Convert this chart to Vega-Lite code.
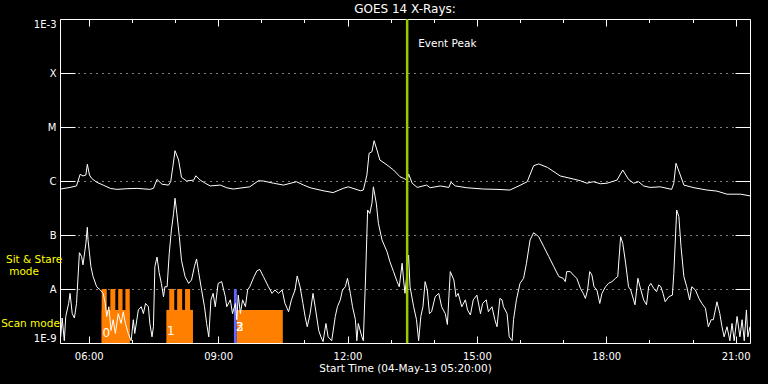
{
  "$schema": "https://vega.github.io/schema/vega-lite/v6.json",
  "width": 690,
  "height": 324,
  "autosize": "none",
  "padding": {"left": 60, "top": 19, "right": 18, "bottom": 41},
  "background": "black",
  "title": {"text": "GOES 14 X-Rays:", "color": "white", "font": "DejaVu Sans", "fontSize": 12, "fontWeight": "normal", "anchor": "middle", "frame": "group", "offset": -7, "baseline": "alphabetic"},
  "config": {
    "view": {"stroke": null},
    "axis": {"labelColor": "white", "tickColor": "white", "domainColor": "white", "titleColor": "white", "labelFont": "DejaVu Sans", "titleFont": "DejaVu Sans", "labelFontSize": 10, "titleFontWeight": "normal", "grid": false, "tickWidth": 1, "domainWidth": 1}
  },
  "resolve": {"axis": {"x": "independent", "y": "independent"}},
  "layer": [
    {
      "data": {"values": [
        {"s": "06:18", "e": "06:57", "top": 4.1e-9, "block": "0", "mode": "Scan"},
        {"s": "06:18", "e": "06:25", "top": 1e-8, "block": "0", "mode": "Sit & Stare"},
        {"s": "06:30", "e": "06:37", "top": 1e-8, "block": "0", "mode": "Sit & Stare"},
        {"s": "06:41", "e": "06:47", "top": 1e-8, "block": "0", "mode": "Sit & Stare"},
        {"s": "06:51", "e": "06:57", "top": 1e-8, "block": "0", "mode": "Sit & Stare"},
        {"s": "07:48", "e": "08:25", "top": 4.1e-9, "block": "1", "mode": "Scan"},
        {"s": "07:52", "e": "07:59", "top": 1e-8, "block": "1", "mode": "Sit & Stare"},
        {"s": "08:03", "e": "08:10", "top": 1e-8, "block": "1", "mode": "Sit & Stare"},
        {"s": "08:14", "e": "08:21", "top": 1e-8, "block": "1", "mode": "Sit & Stare"},
        {"s": "09:22", "e": "09:26", "top": 1e-8, "block": "2", "mode": "Sit & Stare"},
        {"s": "09:26", "e": "10:30", "top": 4.1e-9, "block": "3", "mode": "Scan"}
      ], "format": {"parse": {"s": "date:'%H:%M'", "e": "date:'%H:%M'"}}},
      "mark": {"type": "rect", "clip": true},
      "encoding": {
        "x": {"field": "s", "type": "temporal",
          "scale": {"domain": [{"year": 1900, "month": 1, "date": 1, "hours": 5, "minutes": 20}, {"year": 1900, "month": 1, "date": 1, "hours": 21, "minutes": 20}]},
          "axis": {"orient": "bottom", "ticks": false, "domain": true, "format": "%H:%M",
            "values": [{"year": 1900, "month": 1, "date": 1, "hours": 6}, {"year": 1900, "month": 1, "date": 1, "hours": 9}, {"year": 1900, "month": 1, "date": 1, "hours": 12}, {"year": 1900, "month": 1, "date": 1, "hours": 15}, {"year": 1900, "month": 1, "date": 1, "hours": 18}, {"year": 1900, "month": 1, "date": 1, "hours": 21}],
            "labelPadding": 8, "labelFlush": false, "labelOverlap": false, "title": "Start Time (04-May-13 05:20:00)", "titleFontSize": 10.5, "titlePadding": 2}},
        "x2": {"field": "e"},
        "y": {"field": "top", "type": "quantitative",
          "scale": {"type": "log", "domain": [1e-9, 1e-3], "nice": false},
          "axis": {"orient": "left", "values": [1e-9, 1e-8, 1e-7, 1e-6, 1e-5, 1e-4, 1e-3],
            "labelExpr": "datum.value < 2e-9 ? '1E-9' : datum.value < 2e-8 ? 'A' : datum.value < 2e-7 ? 'B' : datum.value < 2e-6 ? 'C' : datum.value < 2e-5 ? 'M' : datum.value < 2e-4 ? 'X' : '1E-3'",
            "ticks": false, "domain": true, "grid": true, "gridColor": "white", "gridDash": [1, 5], "gridWidth": 1, "gridOpacity": 1,
            "labelPadding": 4, "labelFlush": true, "labelOverlap": false, "title": null}},
        "y2": {"datum": 1e-9},
        "color": {"field": "block", "type": "nominal", "scale": {"domain": ["0", "1", "2", "3"], "range": ["#ff8000", "#ff8000", "#6464ff", "#ff8000"]}, "legend": null}
      }
    },
    {
      "data": {"values": [
        {"t":"05:21","v":7.1e-7},{"t":"05:34","v":7.6e-7},{"t":"05:43","v":8.1e-7},{"t":"05:48","v":1.33e-6},{"t":"05:52","v":1.24e-6},{"t":"05:56","v":1.29e-6},{"t":"05:58","v":2.04e-6},{"t":"06:01","v":1.29e-6},{"t":"06:04","v":1.12e-6},{"t":"06:11","v":9.5e-7},{"t":"06:20","v":8.4e-7},{"t":"06:30","v":7.3e-7},{"t":"06:39","v":7.0e-7},{"t":"06:53","v":7.2e-7},{"t":"07:07","v":7.3e-7},{"t":"07:25","v":7.0e-7},{"t":"07:30","v":7.3e-7},{"t":"07:35","v":1.07e-6},{"t":"07:42","v":8.7e-7},{"t":"07:51","v":8.4e-7},{"t":"07:54","v":9.7e-7},{"t":"07:57","v":1.84e-6},{"t":"08:00","v":3.64e-6},{"t":"08:05","v":2.45e-6},{"t":"08:09","v":1.17e-6},{"t":"08:16","v":1.0e-6},{"t":"08:26","v":1.04e-6},{"t":"08:29","v":1.25e-6},{"t":"08:35","v":1.04e-6},{"t":"08:42","v":9.1e-7},{"t":"08:49","v":8.1e-7},{"t":"09:03","v":8.4e-7},{"t":"09:12","v":7.5e-7},{"t":"09:21","v":7.1e-7},{"t":"09:44","v":7.8e-7},{"t":"09:56","v":1.01e-6},{"t":"10:03","v":1.0e-6},{"t":"10:17","v":9.1e-7},{"t":"10:31","v":8.4e-7},{"t":"10:49","v":9.7e-7},{"t":"10:59","v":8.4e-7},{"t":"11:08","v":7.5e-7},{"t":"11:26","v":6.6e-7},{"t":"11:40","v":6.1e-7},{"t":"11:54","v":7.3e-7},{"t":"12:01","v":7.8e-7},{"t":"12:18","v":6.6e-7},{"t":"12:22","v":6.8e-7},{"t":"12:27","v":1.29e-6},{"t":"12:30","v":3.26e-6},{"t":"12:34","v":3.49e-6},{"t":"12:37","v":5.58e-6},{"t":"12:41","v":3.75e-6},{"t":"12:45","v":2.45e-6},{"t":"12:55","v":1.98e-6},{"t":"13:04","v":1.6e-6},{"t":"13:13","v":1.2e-6},{"t":"13:18","v":1.12e-6},{"t":"13:23","v":1.04e-6},{"t":"13:25","v":1.35e-6},{"t":"13:30","v":9.1e-7},{"t":"13:37","v":7.6e-7},{"t":"13:50","v":8.4e-7},{"t":"13:55","v":7.5e-7},{"t":"14:09","v":8.1e-7},{"t":"14:21","v":7.6e-7},{"t":"14:24","v":9.5e-7},{"t":"14:30","v":8.1e-7},{"t":"14:46","v":7.5e-7},{"t":"15:09","v":7.1e-7},{"t":"15:28","v":7.0e-7},{"t":"15:46","v":6.8e-7},{"t":"16:00","v":8.3e-7},{"t":"16:10","v":9.7e-7},{"t":"16:19","v":1.92e-6},{"t":"16:26","v":2.07e-6},{"t":"16:38","v":1.79e-6},{"t":"16:56","v":1.24e-6},{"t":"17:14","v":1.09e-6},{"t":"17:24","v":1.01e-6},{"t":"17:33","v":9.1e-7},{"t":"17:42","v":9.7e-7},{"t":"17:52","v":8.9e-7},{"t":"18:01","v":9.1e-7},{"t":"18:15","v":1.04e-6},{"t":"18:23","v":1.6e-6},{"t":"18:31","v":1.07e-6},{"t":"18:38","v":9.1e-7},{"t":"18:45","v":9.7e-7},{"t":"18:52","v":8.1e-7},{"t":"19:01","v":7.6e-7},{"t":"19:15","v":7.8e-7},{"t":"19:31","v":7.0e-7},{"t":"19:34","v":9.1e-7},{"t":"19:37","v":2.13e-6},{"t":"19:43","v":1.29e-6},{"t":"19:48","v":8.4e-7},{"t":"20:02","v":7.5e-7},{"t":"20:20","v":6.8e-7},{"t":"20:34","v":6.5e-7},{"t":"20:48","v":5.7e-7},{"t":"21:07","v":5.7e-7},{"t":"21:20","v":5.3e-7}
      ], "format": {"parse": {"t": "date:'%H:%M'"}}},
      "mark": {"type": "line", "color": "white", "strokeWidth": 1, "clip": true},
      "encoding": {
        "x": {"field": "t", "type": "temporal", "axis": {"orient": "top", "labels": false, "ticks": true, "tickSize": -7,
          "values": [{"year": 1900, "month": 1, "date": 1, "hours": 6}, {"year": 1900, "month": 1, "date": 1, "hours": 9}, {"year": 1900, "month": 1, "date": 1, "hours": 12}, {"year": 1900, "month": 1, "date": 1, "hours": 15}, {"year": 1900, "month": 1, "date": 1, "hours": 18}, {"year": 1900, "month": 1, "date": 1, "hours": 21}],
          "domain": true, "title": null}},
        "y": {"field": "v", "type": "quantitative", "axis": {"orient": "right", "labels": false, "ticks": true, "tickSize": -15, "values": [1e-8, 1e-7, 1e-6, 1e-5, 1e-4], "domain": true, "title": null}}
      }
    },
    {
      "data": {"values": [
        {"t":"05:21","v":1.3e-9},{"t":"05:23","v":2.9e-9},{"t":"05:26","v":1.1e-9},{"t":"05:28","v":3.1e-9},{"t":"05:32","v":5.4e-9},{"t":"05:34","v":8.3e-9},{"t":"05:37","v":3.5e-9},{"t":"05:40","v":2.9e-9},{"t":"05:43","v":5.4e-9},{"t":"05:47","v":4.7e-8},{"t":"05:50","v":4.0e-8},{"t":"05:52","v":2.8e-8},{"t":"05:56","v":7.0e-8},{"t":"05:58","v":1.39e-7},{"t":"05:59","v":8.1e-8},{"t":"06:03","v":2.6e-8},{"t":"06:06","v":1.7e-8},{"t":"06:11","v":1.1e-8},{"t":"06:16","v":9.6e-9},{"t":"06:20","v":8.3e-9},{"t":"06:23","v":5.4e-9},{"t":"06:25","v":3.1e-9},{"t":"06:28","v":4.7e-9},{"t":"06:31","v":1.7e-9},{"t":"06:34","v":2.7e-9},{"t":"06:37","v":1.5e-9},{"t":"06:41","v":3.5e-9},{"t":"06:45","v":2.3e-9},{"t":"06:48","v":3.8e-9},{"t":"06:51","v":2.3e-9},{"t":"06:55","v":1.5e-9},{"t":"06:59","v":1.1e-9},{"t":"07:02","v":2.7e-9},{"t":"07:04","v":1.5e-9},{"t":"07:09","v":4.1e-9},{"t":"07:13","v":4.7e-9},{"t":"07:16","v":3.5e-9},{"t":"07:19","v":5.4e-9},{"t":"07:23","v":4.7e-9},{"t":"07:25","v":2.3e-9},{"t":"07:28","v":1.3e-9},{"t":"07:30","v":2.0e-9},{"t":"07:32","v":2.6e-8},{"t":"07:35","v":3.9e-8},{"t":"07:38","v":2.0e-8},{"t":"07:41","v":1.27e-8},{"t":"07:44","v":7.2e-9},{"t":"07:46","v":1.1e-8},{"t":"07:49","v":1.1e-8},{"t":"07:52","v":4.6e-8},{"t":"07:55","v":1.24e-7},{"t":"07:58","v":2.5e-7},{"t":"08:00","v":4.8e-7},{"t":"08:02","v":2.9e-7},{"t":"08:06","v":9.3e-8},{"t":"08:09","v":3.4e-8},{"t":"08:14","v":1.7e-8},{"t":"08:19","v":1.27e-8},{"t":"08:23","v":1.47e-8},{"t":"08:27","v":2.6e-8},{"t":"08:30","v":3.6e-8},{"t":"08:33","v":2.0e-8},{"t":"08:37","v":9.6e-9},{"t":"08:41","v":4.7e-9},{"t":"08:44","v":2.3e-9},{"t":"08:47","v":1.3e-9},{"t":"08:50","v":6.3e-9},{"t":"08:53","v":8.3e-9},{"t":"08:56","v":4.7e-9},{"t":"09:00","v":1.27e-8},{"t":"09:05","v":1.37e-8},{"t":"09:10","v":7.2e-9},{"t":"09:12","v":4.7e-9},{"t":"09:17","v":6.3e-9},{"t":"09:20","v":3.5e-9},{"t":"09:24","v":5.4e-9},{"t":"09:26","v":2.7e-9},{"t":"09:28","v":7.7e-9},{"t":"09:31","v":3.5e-9},{"t":"09:34","v":6.3e-9},{"t":"09:38","v":4.7e-9},{"t":"09:41","v":9.6e-9},{"t":"09:44","v":1.1e-8},{"t":"09:50","v":1.7e-8},{"t":"09:54","v":2.18e-8},{"t":"09:58","v":2.3e-8},{"t":"10:03","v":1.7e-8},{"t":"10:10","v":1.1e-8},{"t":"10:15","v":8.3e-9},{"t":"10:19","v":9.6e-9},{"t":"10:24","v":8.3e-9},{"t":"10:29","v":9.6e-9},{"t":"10:33","v":5.4e-9},{"t":"10:38","v":3.8e-9},{"t":"10:42","v":6.3e-9},{"t":"10:47","v":9.6e-9},{"t":"10:50","v":1.74e-8},{"t":"10:54","v":1.1e-8},{"t":"10:58","v":5.4e-9},{"t":"11:01","v":3.1e-9},{"t":"11:04","v":2.0e-9},{"t":"11:08","v":3.5e-9},{"t":"11:12","v":8.3e-9},{"t":"11:15","v":4.7e-9},{"t":"11:20","v":1.7e-9},{"t":"11:23","v":1.3e-9},{"t":"11:26","v":1.06e-9},{"t":"11:30","v":2.3e-9},{"t":"11:33","v":1.3e-9},{"t":"11:38","v":1.1e-9},{"t":"11:43","v":3.1e-9},{"t":"11:46","v":4.7e-9},{"t":"11:50","v":6.3e-9},{"t":"11:53","v":9.6e-9},{"t":"11:57","v":1.1e-8},{"t":"12:00","v":1.58e-8},{"t":"12:04","v":8.3e-9},{"t":"12:07","v":4.7e-9},{"t":"12:11","v":2.7e-9},{"t":"12:13","v":1.1e-9},{"t":"12:15","v":2.3e-9},{"t":"12:20","v":1.3e-9},{"t":"12:22","v":1.1e-9},{"t":"12:25","v":1.47e-8},{"t":"12:28","v":2.9e-7},{"t":"12:31","v":2.5e-7},{"t":"12:34","v":3.9e-7},{"t":"12:36","v":7.8e-7},{"t":"12:40","v":3.9e-7},{"t":"12:43","v":1.65e-7},{"t":"12:48","v":8.1e-8},{"t":"12:55","v":4.9e-8},{"t":"12:59","v":3.2e-8},{"t":"13:04","v":2.1e-8},{"t":"13:09","v":1.37e-8},{"t":"13:12","v":1.1e-8},{"t":"13:16","v":3.0e-8},{"t":"13:18","v":1.47e-8},{"t":"13:20","v":8.3e-9},{"t":"13:25","v":4.26e-8},{"t":"13:27","v":1.1e-8},{"t":"13:32","v":4.7e-9},{"t":"13:36","v":2.7e-9},{"t":"13:39","v":1.1e-9},{"t":"13:42","v":3.1e-9},{"t":"13:45","v":4.7e-9},{"t":"13:48","v":1.37e-8},{"t":"13:51","v":9.6e-9},{"t":"13:54","v":3.5e-9},{"t":"13:57","v":3.8e-9},{"t":"14:02","v":7.2e-9},{"t":"14:07","v":8.3e-9},{"t":"14:11","v":4.7e-9},{"t":"14:16","v":3.5e-9},{"t":"14:19","v":2.2e-9},{"t":"14:23","v":2.1e-8},{"t":"14:28","v":1.47e-8},{"t":"14:31","v":7.2e-9},{"t":"14:34","v":8.3e-9},{"t":"14:39","v":4.7e-9},{"t":"14:44","v":6.3e-9},{"t":"14:47","v":4.1e-9},{"t":"14:51","v":3.3e-9},{"t":"14:55","v":6.3e-9},{"t":"15:00","v":7.7e-9},{"t":"15:05","v":3.5e-9},{"t":"15:08","v":5.4e-9},{"t":"15:13","v":6.3e-9},{"t":"15:16","v":3.8e-9},{"t":"15:21","v":4.7e-9},{"t":"15:25","v":2.7e-9},{"t":"15:28","v":2.0e-9},{"t":"15:32","v":6.7e-9},{"t":"15:35","v":6.3e-9},{"t":"15:37","v":4.7e-9},{"t":"15:42","v":3.5e-9},{"t":"15:45","v":1.3e-9},{"t":"15:49","v":1.1e-9},{"t":"15:51","v":2.7e-9},{"t":"15:55","v":6.3e-9},{"t":"16:00","v":1.27e-8},{"t":"16:05","v":1.58e-8},{"t":"16:09","v":3.0e-8},{"t":"16:14","v":8.1e-8},{"t":"16:19","v":1.1e-7},{"t":"16:26","v":9.3e-8},{"t":"16:33","v":6.1e-8},{"t":"16:40","v":4.0e-8},{"t":"16:47","v":2.6e-8},{"t":"16:54","v":1.7e-8},{"t":"17:00","v":1.58e-8},{"t":"17:03","v":1.37e-8},{"t":"17:05","v":2.1e-8},{"t":"17:10","v":2.1e-8},{"t":"17:14","v":1.82e-8},{"t":"17:19","v":1.58e-8},{"t":"17:24","v":1.03e-8},{"t":"17:28","v":8.3e-9},{"t":"17:31","v":6.7e-9},{"t":"17:34","v":9.6e-9},{"t":"17:37","v":2.1e-8},{"t":"17:40","v":1.82e-8},{"t":"17:43","v":1.1e-8},{"t":"17:47","v":9.6e-9},{"t":"17:51","v":5.4e-9},{"t":"17:54","v":8.3e-9},{"t":"17:59","v":1.1e-8},{"t":"18:03","v":1.27e-8},{"t":"18:08","v":1.37e-8},{"t":"18:13","v":1.58e-8},{"t":"18:16","v":1.7e-8},{"t":"18:20","v":9.3e-8},{"t":"18:23","v":7.0e-8},{"t":"18:27","v":3.0e-8},{"t":"18:31","v":1.1e-8},{"t":"18:34","v":9.6e-9},{"t":"18:38","v":6.3e-9},{"t":"18:40","v":5.1e-9},{"t":"18:44","v":1.58e-8},{"t":"18:47","v":1.1e-8},{"t":"18:52","v":6.3e-9},{"t":"18:56","v":5.1e-9},{"t":"18:59","v":1.1e-8},{"t":"19:02","v":1.27e-8},{"t":"19:06","v":1.03e-8},{"t":"19:10","v":8.9e-9},{"t":"19:13","v":1.19e-8},{"t":"19:16","v":1.1e-8},{"t":"19:19","v":8.3e-9},{"t":"19:22","v":5.8e-9},{"t":"19:27","v":7.2e-9},{"t":"19:32","v":7.7e-9},{"t":"19:34","v":1.95e-8},{"t":"19:38","v":2.9e-7},{"t":"19:41","v":2.2e-7},{"t":"19:44","v":6.1e-8},{"t":"19:48","v":1.7e-8},{"t":"19:52","v":1.1e-8},{"t":"19:56","v":6.3e-9},{"t":"19:59","v":1.1e-8},{"t":"20:04","v":9.6e-9},{"t":"20:09","v":6.7e-9},{"t":"20:13","v":5.4e-9},{"t":"20:18","v":4.4e-9},{"t":"20:22","v":2.0e-9},{"t":"20:26","v":2.7e-9},{"t":"20:29","v":2.7e-9},{"t":"20:34","v":5.8e-9},{"t":"20:38","v":3.5e-9},{"t":"20:41","v":2.0e-9},{"t":"20:44","v":1.3e-9},{"t":"20:48","v":2.0e-9},{"t":"20:52","v":1.1e-9},{"t":"20:55","v":2.3e-9},{"t":"20:58","v":1.1e-9},{"t":"21:02","v":3.1e-9},{"t":"21:06","v":1.3e-9},{"t":"21:09","v":2.7e-9},{"t":"21:12","v":1.1e-9},{"t":"21:15","v":4.1e-9},{"t":"21:17","v":1.3e-9},{"t":"21:20","v":2.0e-9}
      ], "format": {"parse": {"t": "date:'%H:%M'"}}},
      "mark": {"type": "line", "color": "white", "strokeWidth": 1, "clip": true},
      "encoding": {
        "x": {"field": "t", "type": "temporal", "axis": {"orient": "bottom", "labels": false, "ticks": true, "tickSize": -7,
          "values": [{"year": 1900, "month": 1, "date": 1, "hours": 6}, {"year": 1900, "month": 1, "date": 1, "hours": 9}, {"year": 1900, "month": 1, "date": 1, "hours": 12}, {"year": 1900, "month": 1, "date": 1, "hours": 15}, {"year": 1900, "month": 1, "date": 1, "hours": 18}, {"year": 1900, "month": 1, "date": 1, "hours": 21}],
          "domain": false, "title": null}},
        "y": {"field": "v", "type": "quantitative", "axis": {"orient": "left", "labels": false, "ticks": true, "tickSize": -15, "values": [1e-8, 1e-7, 1e-6, 1e-5, 1e-4], "domain": false, "title": null}}
      }
    },
    {
      "data": {"values": [{"t": "13:23", "label": "Event Peak"}], "format": {"parse": {"t": "date:'%H:%M'"}}},
      "mark": {"type": "rule", "color": "#99cc00", "strokeWidth": 2.5},
      "encoding": {
        "x": {"field": "t", "type": "temporal", "axis": {"orient": "bottom", "labels": false, "ticks": true, "tickSize": -3.5,
          "values": [{"year": 1900, "month": 1, "date": 1, "hours": 7}, {"year": 1900, "month": 1, "date": 1, "hours": 8}, {"year": 1900, "month": 1, "date": 1, "hours": 10}, {"year": 1900, "month": 1, "date": 1, "hours": 11}, {"year": 1900, "month": 1, "date": 1, "hours": 13}, {"year": 1900, "month": 1, "date": 1, "hours": 14}, {"year": 1900, "month": 1, "date": 1, "hours": 16}, {"year": 1900, "month": 1, "date": 1, "hours": 17}, {"year": 1900, "month": 1, "date": 1, "hours": 19}, {"year": 1900, "month": 1, "date": 1, "hours": 20}],
          "domain": false, "title": null}}
      }
    },
    {
      "data": {"values": [{"t": "13:23", "v": 3.07e-4, "label": "Event Peak"}], "format": {"parse": {"t": "date:'%H:%M'"}}},
      "mark": {"type": "text", "color": "white", "font": "DejaVu Sans", "fontSize": 10.5, "align": "left", "baseline": "alphabetic", "dx": 11},
      "encoding": {
        "x": {"field": "t", "type": "temporal", "axis": {"orient": "top", "labels": false, "ticks": true, "tickSize": -3.5,
          "values": [{"year": 1900, "month": 1, "date": 1, "hours": 7}, {"year": 1900, "month": 1, "date": 1, "hours": 8}, {"year": 1900, "month": 1, "date": 1, "hours": 10}, {"year": 1900, "month": 1, "date": 1, "hours": 11}, {"year": 1900, "month": 1, "date": 1, "hours": 13}, {"year": 1900, "month": 1, "date": 1, "hours": 14}, {"year": 1900, "month": 1, "date": 1, "hours": 16}, {"year": 1900, "month": 1, "date": 1, "hours": 17}, {"year": 1900, "month": 1, "date": 1, "hours": 19}, {"year": 1900, "month": 1, "date": 1, "hours": 20}],
          "domain": false, "title": null}},
        "y": {"field": "v", "type": "quantitative", "axis": null},
        "text": {"field": "label"}
      }
    },
    {
      "data": {"values": [
        {"t": "06:19", "v": 1.29e-9, "label": "0"},
        {"t": "07:49", "v": 1.41e-9, "label": "1"},
        {"t": "09:25", "v": 1.67e-9, "label": "2"},
        {"t": "09:25", "v": 1.67e-9, "label": "3"}
      ], "format": {"parse": {"t": "date:'%H:%M'"}}},
      "mark": {"type": "text", "color": "white", "font": "DejaVu Sans", "fontSize": 12, "align": "left", "baseline": "alphabetic"},
      "encoding": {
        "x": {"field": "t", "type": "temporal", "axis": null},
        "y": {"field": "v", "type": "quantitative", "axis": null},
        "text": {"field": "label"}
      }
    },
    {
      "data": {"values": [
        {"t": "04:44", "v": 3.07e-8, "label": "Sit & Stare"},
        {"t": "04:30", "v": 1.82e-8, "label": "mode"},
        {"t": "04:39", "v": 1.95e-9, "label": "Scan mode"}
      ], "format": {"parse": {"t": "date:'%H:%M'"}}},
      "mark": {"type": "text", "color": "#ffff00", "font": "DejaVu Sans", "fontSize": 10.5, "align": "center", "baseline": "alphabetic"},
      "encoding": {
        "x": {"field": "t", "type": "temporal", "axis": null},
        "y": {"field": "v", "type": "quantitative", "axis": null},
        "text": {"field": "label"}
      }
    }
  ]
}
